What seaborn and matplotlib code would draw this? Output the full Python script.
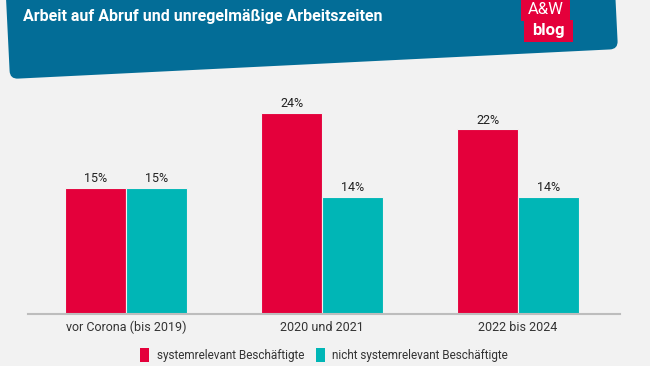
import pandas as pd
import seaborn as sns
import matplotlib.pyplot as plt
from matplotlib import font_manager
from matplotlib.patches import FancyBboxPatch, Patch
from matplotlib.transforms import Affine2D

# Data
periods = ["vor Corona (bis 2019)", "2020 und 2021", "2022 bis 2024"]
systemrelevant = [15, 24, 22]
nicht_systemrelevant = [15, 14, 14]
groups = ["systemrelevant Beschäftigte", "nicht systemrelevant Beschäftigte"]

df = pd.DataFrame({
    "Zeitraum": periods * 2,
    "Anteil": systemrelevant + nicht_systemrelevant,
    "Gruppe": [groups[0]] * 3 + [groups[1]] * 3,
})

RED = "#E4003B"
TEAL = "#00B6B6"
BLUE = "#036D97"
BG = "#F2F2F2"

sns.set_theme(style="white")
names = {f.name for f in font_manager.fontManager.ttflist}
main_font = "Liberation Sans Narrow" if "Liberation Sans Narrow" in names else "Roboto"
plt.rcParams["font.family"] = [main_font, "DejaVu Sans"]

W, H = 650, 366
fig = plt.figure(figsize=(W / 100, H / 100), dpi=100, facecolor=BG)

# pixel coords (origin top-left, y down) -> figure coords
px = Affine2D().scale(1 / W, -1 / H).translate(0, 1) + fig.transFigure

# tilted header banner
banner = FancyBboxPatch((10, -60), 608.7, 139, boxstyle="round,pad=0,rounding_size=8",
                        facecolor=BLUE, edgecolor="none",
                        transform=Affine2D().rotate_deg_around(10, 79, -2.82) + px)
fig.patches.append(banner)

fig.text(23 / W, 1 - 16 / H, "Arbeit auf Abruf und unregelmäßige Arbeitszeiten",
         color="white", fontsize=11.5, fontweight="bold", va="center", ha="left")

# logo
fig.patches.append(FancyBboxPatch((521, 0), 49, 21, boxstyle="square,pad=0",
                                  facecolor=RED, edgecolor="none", transform=px))
fig.patches.append(FancyBboxPatch((524, 20), 49, 22, boxstyle="square,pad=0",
                                  facecolor=RED, edgecolor="none", transform=px))
fig.text(545.5 / W, 1 - 10 / H, "A&W", color="white", fontsize=12,
         ha="center", va="center")
fig.text(548.5 / W, 1 - 31 / H, "blog", color="white", fontsize=12,
         fontweight="bold", ha="center", va="center")

# plot area
ax = fig.add_axes([28 / W, 52 / H, (620 - 28) / W, (314 - 79) / H])
ax.set_facecolor(BG)
sns.barplot(data=df, x="Zeitraum", y="Anteil", hue="Gruppe", palette=[RED, TEAL],
            saturation=1, width=0.62, edgecolor=BG, linewidth=0.8, ax=ax, legend=False)

for cont in ax.containers:
    ax.bar_label(cont, labels=[f"{v:.0f}%" for v in cont.datavalues],
                 padding=2, fontsize=9, color="#222222")

ax.set_ylim(0, 28)
ax.set_xlim(-0.5, 2.52)
ax.set_xlabel("")
ax.set_ylabel("")
ax.set_yticks([])
ax.tick_params(axis="x", length=0, labelsize=9, labelcolor="#333333", pad=5)
for s in ["top", "right", "left"]:
    ax.spines[s].set_visible(False)
ax.spines["bottom"].set_color("#BDBDBD")
ax.spines["bottom"].set_linewidth(1.5)

handles = [Patch(facecolor=RED, edgecolor="none"), Patch(facecolor=TEAL, edgecolor="none")]
fig.legend(handles, groups, loc="center", bbox_to_anchor=(324 / W, 1 - 355 / H),
           ncol=2, frameon=False, fontsize=8.5, handlelength=0.8, handleheight=1.5,
           handletextpad=0.6, columnspacing=1.0, labelcolor="#333333")

fig.savefig("out.png", dpi=100, facecolor=BG)
